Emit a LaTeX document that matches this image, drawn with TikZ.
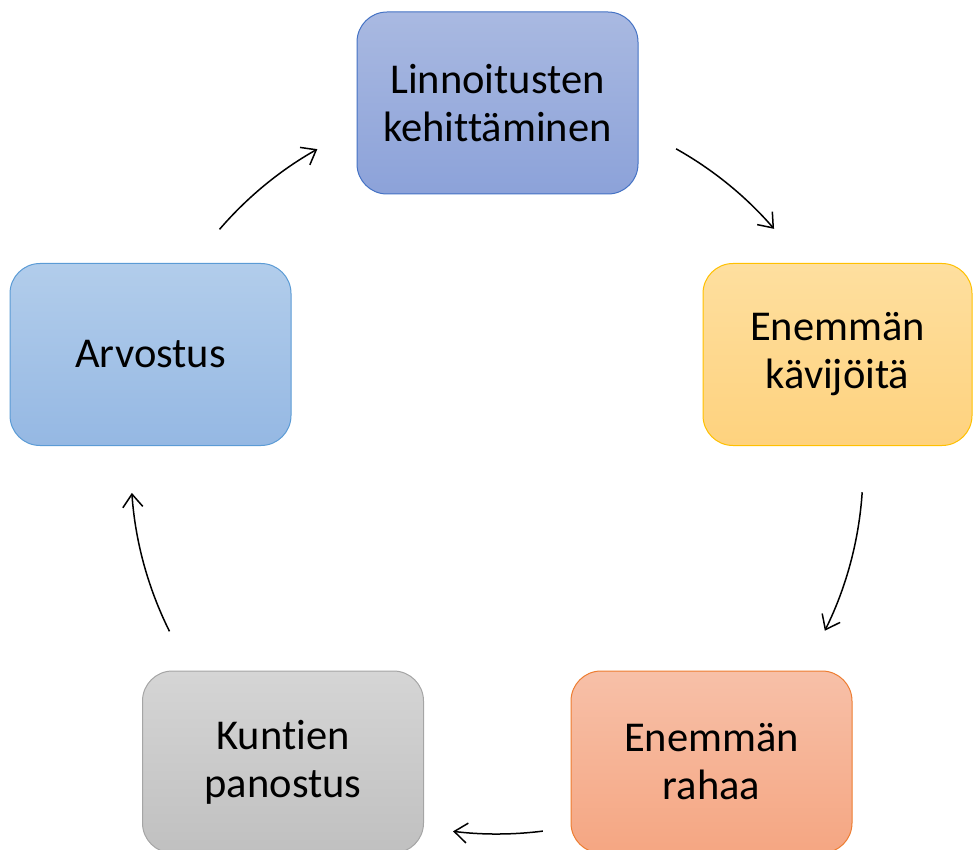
\documentclass[tikz,border=0pt]{standalone}
\usepackage{fontspec}
\setmainfont{Carlito}[Ligatures=NoCommon]
\usetikzlibrary{arrows.meta}
\definecolor{topA}{HTML}{A9B9E1}
\definecolor{topB}{HTML}{8CA2D9}
\definecolor{topL}{HTML}{4472C4}
\definecolor{yelA}{HTML}{FEDF9F}
\definecolor{yelB}{HTML}{FED27E}
\definecolor{yelL}{HTML}{FFC000}
\definecolor{orA}{HTML}{F7C0A8}
\definecolor{orB}{HTML}{F5A682}
\definecolor{orL}{HTML}{ED7D31}
\definecolor{grA}{HTML}{D5D5D5}
\definecolor{grB}{HTML}{C0C0C0}
\definecolor{grL}{HTML}{A5A5A5}
\definecolor{blA}{HTML}{B2CDEB}
\definecolor{blB}{HTML}{95B8E3}
\definecolor{blL}{HTML}{5B9BD5}
\tikzset{
  cyclebox/.style={rounded corners=30pt, minimum width=281pt, minimum height=182pt,
    line width=1pt, align=center, inner sep=0pt,
    font=\fontsize{42.5pt}{48pt}\selectfont},
  cyclearrow/.style={line width=1.5pt, -{Straight Barb[length=13pt,width=20pt,line width=1.5pt]}}
}
\begin{document}
\begin{tikzpicture}[x=1pt,y=1pt]
\clip (0,0) rectangle (974,-850);
\node[cyclebox, draw=topL, top color=topA, bottom color=topB] (n1) at (497.5,-103) {Linnoitusten\\kehittäminen};
\node[cyclebox, minimum width=269pt, draw=yelL, top color=yelA, bottom color=yelB] (n2) at (837.5,-354.5) {Enemmän\\kävijöitä};
\node[cyclebox, draw=orL, top color=orA, bottom color=orB] (n3) at (711.5,-762) {Enemmän\\rahaa};
\node[cyclebox, draw=grL, top color=grA, bottom color=grB] (n4) at (283,-762) {Kuntien\\panostus};
\node[cyclebox, draw=blL, top color=blA, bottom color=blB] (n5) at (150.5,-354.5) {Arvostus};
\coordinate (c) at (497,-468);
\coordinate (a1) at ([shift={(60.7:366)}]c);
\coordinate (a2) at ([shift={(-3.8:366)}]c);
\coordinate (a3) at ([shift={(-82.8:366)}]c);
\coordinate (a4) at ([shift={(206.5:366)}]c);
\coordinate (a5) at ([shift={(139.3:366)}]c);
\draw[cyclearrow] (a1) arc[start angle=60.7, end angle=40.8, radius=366];
\draw[cyclearrow] (a2) arc[start angle=-3.8, end angle=-26.4, radius=366];
\draw[cyclearrow] (a3) arc[start angle=-82.8, end angle=-96.9, radius=366];
\draw[cyclearrow] (a4) arc[start angle=206.5, end angle=183.9, radius=366];
\draw[cyclearrow] (a5) arc[start angle=139.3, end angle=119.4, radius=366];
\end{tikzpicture}
\end{document}
